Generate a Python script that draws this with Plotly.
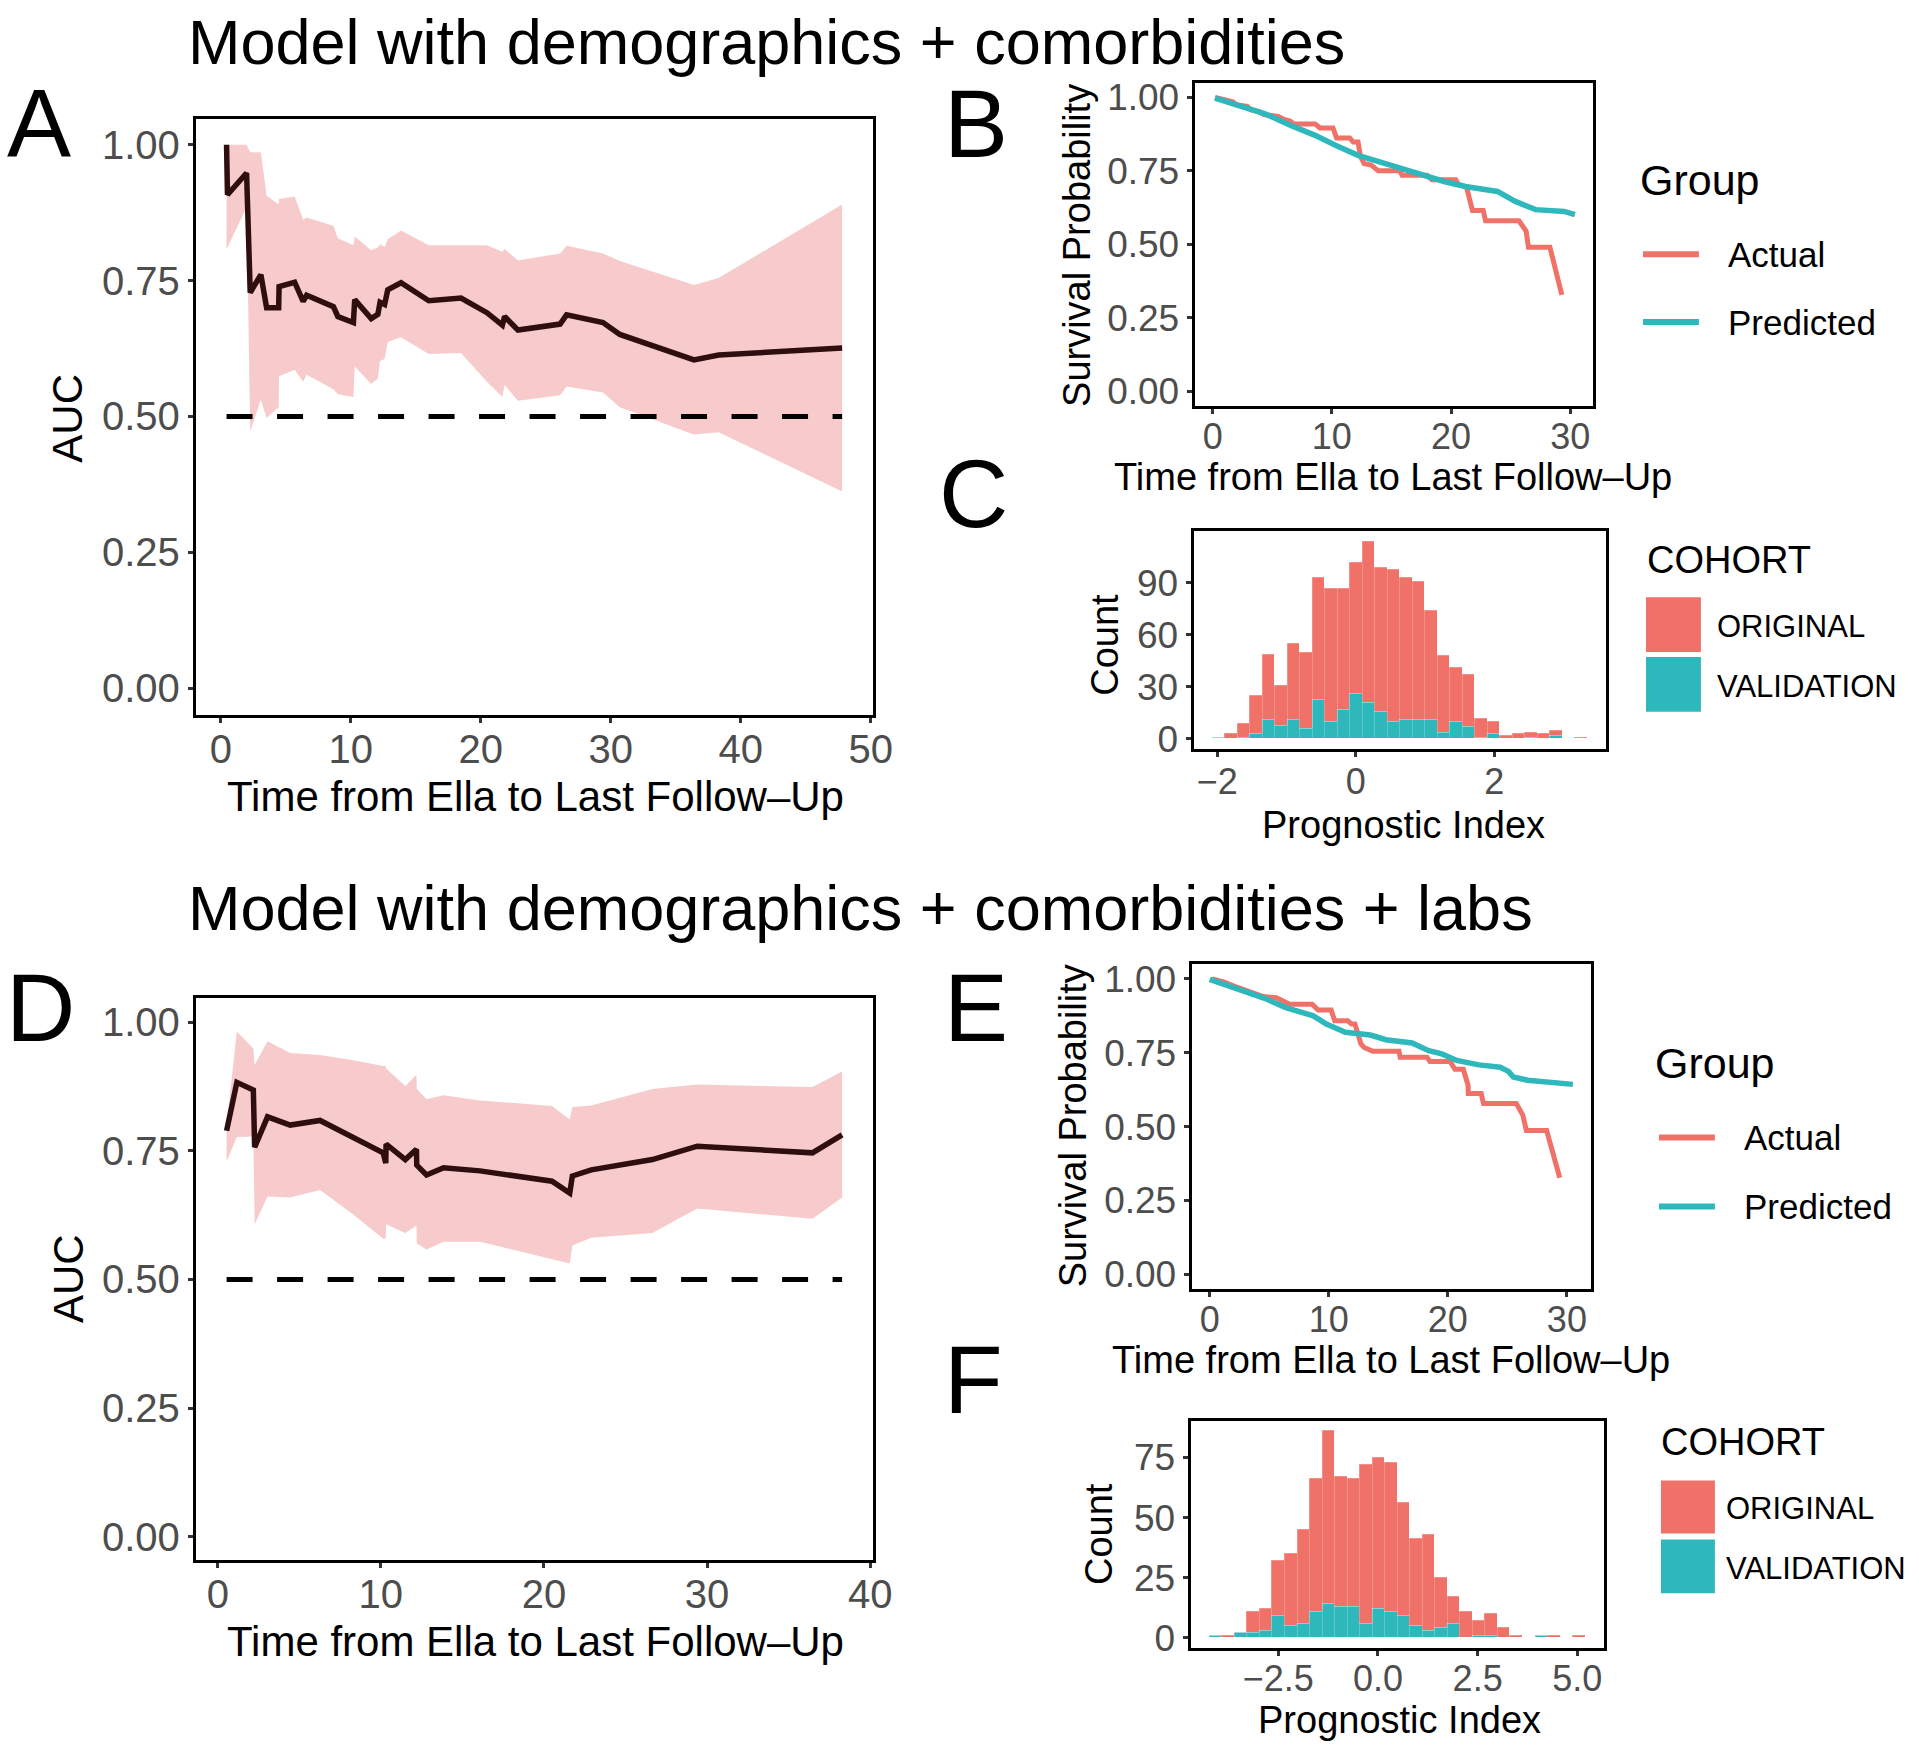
import plotly.graph_objects as go

W, H = 1919, 1749
SX, SY = 1.0093, 1.0062  # fine calibration of the layout grid
FONT = "Liberation Sans, Arial, Helvetica, sans-serif"

RED = "#ef7168"
TEAL = "#2fb8bc"
RIBBON = "#f7cbcb"
AUC_LINE = "#2e0e0e"
TICK_GRAY = "#4d4d4d"

# ---------------- Panel A: time-dependent AUC (demographics + comorbidities)
time_a = [0.44, 0.51, 1.98, 2.26, 3.08, 3.52, 4.45, 4.48, 5.68, 6.33, 6.60, 8.66, 9.0,
          10.2, 10.3, 11.57, 12.08, 12.25, 12.6, 12.84, 13.86, 16.0, 18.48, 20.47,
          21.66, 21.83, 22.86, 26.1, 26.6, 29.4, 30.7, 36.4, 38.3, 47.8]
auc_a = [1.00, 0.908, 0.948, 0.728, 0.761, 0.70, 0.70, 0.739, 0.747, 0.712, 0.723, 0.702, 0.684,
         0.673, 0.715, 0.68, 0.688, 0.71, 0.706, 0.733, 0.746, 0.713, 0.718, 0.691,
         0.668, 0.684, 0.659, 0.67, 0.687, 0.673, 0.651, 0.604, 0.613, 0.626]
lo_a = [0.81, 0.811, 0.885, 0.473, 0.531, 0.497, 0.517, 0.574, 0.586, 0.564, 0.577, 0.55, 0.541,
        0.536, 0.592, 0.56, 0.57, 0.602, 0.606, 0.637, 0.646, 0.615, 0.617, 0.564,
        0.536, 0.558, 0.529, 0.539, 0.555, 0.544, 0.517, 0.467, 0.471, 0.362]
hi_a = [1.00, 1.00, 1.00, 0.986, 0.986, 0.906, 0.89, 0.90, 0.905, 0.862, 0.866, 0.851, 0.828,
        0.815, 0.831, 0.806, 0.811, 0.817, 0.812, 0.826, 0.842, 0.815, 0.815, 0.815,
        0.803, 0.808, 0.787, 0.80, 0.814, 0.80, 0.786, 0.742, 0.755, 0.89]

# ---------------- Panel D: time-dependent AUC (+ labs)
time_d = [0.54, 1.17, 2.18, 2.26, 3.05, 4.44, 6.27, 8.31, 10.14, 10.3, 10.32, 11.5, 12.18,
          12.2, 12.8, 13.84, 16.08, 20.49, 21.58, 21.74, 22.9, 26.65, 29.4, 36.46, 38.28]
auc_d = [0.789, 0.883, 0.868, 0.757, 0.816, 0.80, 0.809, 0.775, 0.746, 0.726, 0.763, 0.733, 0.753,
         0.722, 0.703, 0.717, 0.711, 0.691, 0.668, 0.701, 0.713, 0.733, 0.759, 0.746, 0.781]
lo_d = [0.729, 0.777, 0.778, 0.607, 0.661, 0.659, 0.674, 0.626, 0.579, 0.58, 0.607, 0.59, 0.605,
        0.57, 0.558, 0.573, 0.573, 0.54, 0.531, 0.566, 0.581, 0.59, 0.638, 0.618, 0.659]
hi_d = [0.80, 0.982, 0.949, 0.917, 0.963, 0.94, 0.936, 0.926, 0.915, 0.915, 0.91, 0.876, 0.898,
        0.87, 0.85, 0.858, 0.848, 0.837, 0.811, 0.835, 0.838, 0.87, 0.879, 0.874, 0.904]

auc_reference = 0.5

# ---------------- Panel B: survival curves
b_actual_t = [0.2, 1.0, 1.7, 2.0, 2.9, 3.2, 3.9, 4.3, 5.5, 6.0, 6.5, 6.8, 8.6, 9.0, 10.1, 10.4,
              11.5, 11.8, 12.2, 12.4, 12.7, 13.3, 13.9, 15.7, 15.9, 18.0, 18.4, 20.4, 20.6,
              21.3, 21.6, 21.8, 22.7, 22.9, 25.7, 26.3, 26.5, 28.3, 29.3]
b_actual_s = [1.0, 0.99, 0.985, 0.975, 0.97, 0.958, 0.952, 0.942, 0.935, 0.925, 0.92, 0.91, 0.91,
              0.896, 0.896, 0.862, 0.862, 0.848, 0.848, 0.80, 0.775, 0.77, 0.75, 0.75, 0.735,
              0.735, 0.72, 0.72, 0.705, 0.695, 0.655, 0.615, 0.615, 0.58, 0.58, 0.545, 0.49,
              0.49, 0.328]
b_pred_t = [0.2, 2.7, 4.4, 6.6, 8.6, 10.3, 12.2, 14.5, 16.7, 19.5, 21.2, 23.9, 25.4, 27.1, 29.5, 30.4]
b_pred_s = [0.998, 0.966, 0.944, 0.904, 0.871, 0.837, 0.803, 0.775, 0.747, 0.713, 0.697, 0.68,
            0.646, 0.618, 0.612, 0.601]

# ---------------- Panel E: survival curves
e_actual_t = [0.2, 1.17, 2.1, 3.1, 4.5, 5.6, 6.2, 6.7, 8.6, 9.1, 10.2, 10.5, 11.6, 11.9, 12.2,
              12.7, 12.97, 13.7, 15.9, 16.0, 18.25, 18.5, 20.2, 20.6, 21.3, 21.7, 21.72, 22.8,
              23.0, 25.75, 26.3, 26.6, 28.3, 29.4]
e_actual_s = [1.0, 0.99, 0.975, 0.962, 0.94, 0.936, 0.925, 0.914, 0.914, 0.895, 0.895, 0.858,
              0.858, 0.847, 0.847, 0.78, 0.768, 0.755, 0.755, 0.735, 0.735, 0.72, 0.72, 0.694,
              0.694, 0.64, 0.612, 0.612, 0.578, 0.578, 0.539, 0.487, 0.487, 0.327]
e_pred_t = [0.0, 3.1, 4.5, 6.4, 8.7, 9.8, 11.4, 13.5, 14.8, 17.0, 18.4, 19.5, 20.75, 22.6,
            24.4, 25.1, 25.5, 26.7, 28.7, 30.5]
e_pred_s = [0.998, 0.953, 0.936, 0.903, 0.875, 0.847, 0.819, 0.81, 0.794, 0.783, 0.757, 0.746,
            0.724, 0.709, 0.701, 0.687, 0.668, 0.657, 0.649, 0.643]

# ---------------- Panel C: prognostic index histogram (30 bins)
c_bin_start = -2.071
c_bin_width = 0.1805
c_original = [0, 3, 8, 22, 38, 23, 44, 44, 70, 77, 70, 76, 93, 83, 88, 82, 80, 63, 44, 31,
              30, 11, 7, 2, 3, 3, 3, 3, 0, 1]
c_validation = [1, 0, 1, 3, 11, 8, 11, 6, 23, 10, 17, 26, 21, 16, 10, 11, 11, 11, 4, 10,
                7, 1, 3, 0, 0, 1, 0, 2, 0, 0]

# ---------------- Panel F: prognostic index histogram (30 bins)
f_bin_start = -4.227
f_bin_width = 0.3141
f_original = [0, 1, 0, 9, 9, 23, 30, 39, 55, 72, 54, 53, 66, 63, 62, 47, 36, 40, 21, 11,
              11, 6, 9, 4, 1, 0, 0, 1, 0, 1]
f_validation = [1, 0, 2, 2, 3, 9, 5, 6, 11, 14, 13, 13, 6, 12, 11, 9, 5, 3, 4, 6,
                0, 1, 1, 0, 0, 0, 1, 0, 0, 0]

# ---------------- tick labels
auc_ticks = [0, 0.25, 0.5, 0.75, 1.0]
auc_ticktext = ["0.00", "0.25", "0.50", "0.75", "1.00"]
a_xticks = [0, 10, 20, 30, 40, 50]
d_xticks = [0, 10, 20, 30, 40]
surv_xticks = [0, 10, 20, 30]
c_xticks = [-2, 0, 2]
c_yticks = [0, 30, 60, 90]
f_xticks = [-2.5, 0, 2.5, 5.0]
f_xticktext = ["\u22122.5", "0.0", "2.5", "5.0"]
f_yticks = [0, 25, 50, 75]

group_labels = ["Actual", "Predicted"]
cohort_labels = ["ORIGINAL", "VALIDATION"]


def fx(px):
    return min(px * SX / W, 1.0)


def fy(py):
    return max(1 - py * SY / H, 0.0)


def centers(start, width, n):
    return [start + (i + 0.5) * width for i in range(n)]


fig = go.Figure()

# ribbons + lines for A and D
for (t, a, lo, hi, ax) in [(time_a, auc_a, lo_a, hi_a, ""), (time_d, auc_d, lo_d, hi_d, "4")]:
    xa, ya = "x" + ax, "y" + ax
    fig.add_trace(go.Scatter(x=t, y=lo, mode="lines", line=dict(width=0), hoverinfo="skip",
                             showlegend=False, xaxis=xa, yaxis=ya))
    fig.add_trace(go.Scatter(x=t, y=hi, mode="lines", line=dict(width=0), fill="tonexty",
                             fillcolor=RIBBON, hoverinfo="skip", showlegend=False,
                             xaxis=xa, yaxis=ya))
    fig.add_trace(go.Scatter(x=[t[0], t[-1]], y=[auc_reference, auc_reference], mode="lines",
                             line=dict(color="black", width=5, dash="26px,24.5px"),
                             showlegend=False, xaxis=xa, yaxis=ya))
    fig.add_trace(go.Scatter(x=t, y=a, mode="lines", line=dict(color=AUC_LINE, width=5.5),
                             showlegend=False, name="AUC", xaxis=xa, yaxis=ya))

# survival curves B and E
for (at, asv, pt, ps, ax) in [(b_actual_t, b_actual_s, b_pred_t, b_pred_s, "2"),
                              (e_actual_t, e_actual_s, e_pred_t, e_pred_s, "5")]:
    fig.add_trace(go.Scatter(x=at, y=asv, mode="lines", name=group_labels[0],
                             line=dict(color=RED, width=5), showlegend=False,
                             xaxis="x" + ax, yaxis="y" + ax))
    fig.add_trace(go.Scatter(x=pt, y=ps, mode="lines", name=group_labels[1],
                             line=dict(color=TEAL, width=5.5), showlegend=False,
                             xaxis="x" + ax, yaxis="y" + ax))

# histograms C and F (validation at bottom, original stacked on top)
for (start, wd, orig, val, ax) in [(c_bin_start, c_bin_width, c_original, c_validation, "3"),
                                   (f_bin_start, f_bin_width, f_original, f_validation, "6")]:
    xs = centers(start, wd, len(orig))
    fig.add_trace(go.Bar(x=xs, y=val, width=wd, name=cohort_labels[1],
                         marker=dict(color=TEAL, line=dict(width=0.6, color="rgba(255,255,255,0.35)")),
                         showlegend=False, xaxis="x" + ax, yaxis="y" + ax))
    fig.add_trace(go.Bar(x=xs, y=orig, width=wd, name=cohort_labels[0],
                         marker=dict(color=RED, line=dict(width=0.6, color="rgba(255,255,255,0.35)")),
                         showlegend=False, xaxis="x" + ax, yaxis="y" + ax))


def axis(dom_px, rng, vals, text, size, anchor, vertical, standoff=0):
    if vertical:
        dom = [fy(dom_px[1]), fy(dom_px[0])]
    else:
        dom = [fx(dom_px[0]), fx(dom_px[1])]
    d = dict(domain=dom, range=rng, tickmode="array", tickvals=vals,
             ticks="outside", ticklen=5, tickwidth=2.5, tickcolor="#333333",
             showline=True, mirror=True, linecolor="black", linewidth=3,
             showgrid=False, zeroline=False, anchor=anchor, fixedrange=True,
             ticklabelstandoff=standoff,
             tickfont=dict(size=size, color=TICK_GRAY, family=FONT))
    if text is not None:
        d["ticktext"] = text
    return d


layout = dict(
    width=W, height=H, margin=dict(l=0, r=0, t=0, b=0),
    paper_bgcolor="white", plot_bgcolor="white",
    barmode="stack", bargap=0, showlegend=False,
    font=dict(family=FONT, color="black"),
    # A
    xaxis=axis([196, 874], [-1.93, 50.17], a_xticks, None, 40, "y", False, -8),
    yaxis=axis([114, 712], [-0.049, 1.048], auc_ticks, auc_ticktext, 40, "x", True),
    # B
    xaxis2=axis([1196, 1595], [-1.52, 31.92], surv_xticks, None, 36, "y2", False, -8),
    yaxis2=axis([78, 402], [-0.05, 1.05], auc_ticks, auc_ticktext, 37, "x2", True),
    # C
    xaxis3=axis([1195, 1608], [-2.342, 3.615], c_xticks, None, 36, "y3", False, -6),
    yaxis3=axis([528, 746], [-5.7, 119.7], c_yticks, None, 37, "x3", True),
    # D
    xaxis4=axis([196, 874], [-1.35, 40.17], d_xticks, None, 40, "y4", False, -8),
    yaxis4=axis([996, 1560], [-0.046, 1.047], auc_ticks, auc_ticktext, 40, "x4", True),
    # E
    xaxis5=axis([1193, 1593], [-1.525, 32.03], surv_xticks, None, 36, "y5", False, -8),
    yaxis5=axis([962, 1288], [-0.05, 1.05], auc_ticks, auc_ticktext, 37, "x5", True),
    # F
    xaxis6=axis([1192, 1606], [-4.70, 5.67], f_xticks, f_xticktext, 36, "y6", False, -8),
    yaxis6=axis([1420, 1648], [-4.3, 90.3], f_yticks, None, 37, "x6", True),
)
fig.update_layout(**layout)

annotations = []
shapes = []


def text(s, x, y, size, anchor="center", angle=0, color="black"):
    annotations.append(dict(text=s, x=fx(x), y=fy(y), xref="paper", yref="paper",
                            xanchor=anchor, yanchor="middle", showarrow=False, textangle=angle,
                            font=dict(size=size, color=color, family=FONT)))


# titles
text("Model with demographics + comorbidities", 186, 37, 63, "left")
text("Model with demographics + comorbidities + labs", 186, 906, 63, "left")

# panel letters
for letter, (x, y) in {"A": (39, 118), "B": (977, 119), "C": (975, 490),
                       "D": (41, 1006), "E": (977, 1006), "F": (975, 1379)}.items():
    text(letter, x, y, 96)

# axis titles
xt = "Time from Ella to Last Follow\u2013Up"
text(xt, 536, 794, 42)
text("AUC", 68, 414, 42, angle=-90)
text(xt, 536, 1641, 42)
text("AUC", 68, 1277, 42, angle=-90)
text(xt, 1395, 473, 38)
text("Survival Probability", 1079, 241, 38, angle=-90)
text(xt, 1393, 1359, 38)
text("Survival Probability", 1074, 1124, 38, angle=-90)
text("Prognostic Index", 1405, 822, 38)
text("Count", 1106, 642, 38, angle=-90)
text("Prognostic Index", 1401, 1720, 38)
text("Count", 1101, 1534, 38, angle=-90)


# legends (drawn manually to match key sizes)
def group_legend(x0, ytitle, ys, xline, xlab):
    text("Group", x0, ytitle, 43, "left")
    for lab, col, yy in zip(group_labels, [RED, TEAL], ys):
        shapes.append(dict(type="line", xref="paper", yref="paper", x0=fx(xline[0]), x1=fx(xline[1]),
                           y0=fy(yy), y1=fy(yy), line=dict(color=col, width=6)))
        text(lab, xlab, yy, 35, "left")


def cohort_legend(x0, ytitle, boxes, xbox, xlab):
    text("COHORT", x0, ytitle, 38, "left")
    for lab, col, (b0, b1) in zip(cohort_labels, [RED, TEAL], boxes):
        shapes.append(dict(type="rect", xref="paper", yref="paper", x0=fx(xbox[0]), x1=fx(xbox[1]),
                           y0=fy(b1), y1=fy(b0), fillcolor=col, line=dict(width=0)))
        text(lab, xlab, (b0 + b1) / 2 + 2, 31, "left")


group_legend(1640, 176, [250, 318], (1645, 1701), 1728)
group_legend(1655, 1061, [1136, 1205], (1661, 1717), 1744)
cohort_legend(1647, 557, [(594, 649), (654, 709)], (1648, 1703), 1717)
cohort_legend(1661, 1441, [(1480, 1533), (1539, 1593)], (1663, 1717), 1726)

fig.update_layout(annotations=annotations, shapes=shapes)
fig.write_html("out.html", config={"displayModeBar": False},
               post_script="document.body.style.margin='0px';document.body.style.padding='0px';")
